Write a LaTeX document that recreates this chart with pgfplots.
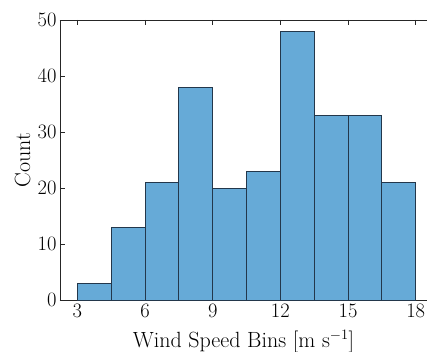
\documentclass[border=0pt]{standalone}
\usepackage{pgfplots}
\pgfplotsset{compat=1.18}
\definecolor{barfill}{RGB}{102,170,215}
\definecolor{baredge}{RGB}{35,55,75}
\begin{document}
\begin{tikzpicture}
\begin{axis}[
  at={(0,0)}, anchor=south west,
  scale only axis,
  width=367pt, height=280pt,
  xmin=2.23, xmax=18.5,
  ymin=0, ymax=50,
  axis x line*=box, axis y line*=left,
  axis line style={line width=0.9pt, black!85},
  tick style={line width=0.8pt, black!85},
  tick align=inside,
  major tick length=5pt,
  xtick={3,6,9,12,15,18},
  ytick={0,10,20,30,40,50},
  /pgf/number format/assume math mode=true,
  tick label style={font=\fontsize{20.5}{24}\selectfont},
  label style={font=\fontsize{22}{26}\selectfont},
  xlabel={Wind Speed Bins [m s$^{-1}$]},
  ylabel={Count},
  xlabel style={at={(axis description cs:0.5,-0.168)}, anchor=base},
  ylabel style={at={(axis description cs:-0.0817,0.5)}, anchor=base},
  clip=false,
]
\addplot[ybar interval, fill=barfill, draw=baredge, line width=0.8pt] coordinates {
  (3,3) (4.5,13) (6,21) (7.5,38) (9,20) (10.5,23) (12,48) (13.5,33) (15,33) (16.5,21) (18,21)
};
\end{axis}
\pgfresetboundingbox
\path[use as bounding box] (-60pt,-51pt) rectangle (367pt,300pt);
\end{tikzpicture}
\end{document}
